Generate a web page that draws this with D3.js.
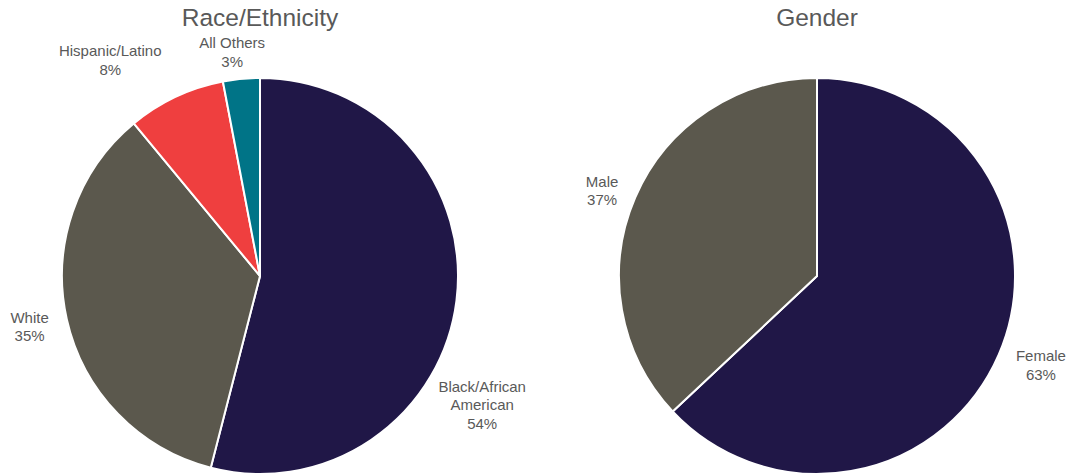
<!DOCTYPE html>
<html>
<head>
<meta charset="utf-8">
<script src="https://cdn.jsdelivr.net/npm/d3@7"></script>
<style>
  body { margin: 0; background: #fff; }
  svg { display: block; font-family: "Liberation Sans", Arial, sans-serif; }
</style>
</head>
<body>
<div class="chart"></div>
<script>
// Race / ethnicity data
const raceLabels = ["Black/African\nAmerican", "White", "Hispanic/Latino", "All Others"];
const raceValues = [54, 35, 8, 3];
const raceColors = ["#201747", "#5b584d", "#ef3f3f", "#007487"];

// Gender data
const genderLabels = ["Female", "Male"];
const genderValues = [63, 37];
const genderColors = ["#201747", "#5b584d"];

const width = 1072;
const height = 474;
const radius = 198;

const svg = d3.select(".chart")
  .append("svg")
  .attr("width", width)
  .attr("height", height);

// small nudges so labels sit where the original has them
const raceNudge = [[-8, 100], [-4, 0], [-51, -6], [-6, 7]];
const genderNudge = [[11, -3], [-2, 7]];

function drawPie(cx, title, labels, values, colors, nudge) {
  const g = svg.append("g").attr("transform", `translate(${cx},276)`);

  const pie = d3.pie().sort(null).value(d => d);
  const arc = d3.arc().innerRadius(0).outerRadius(radius);
  const labelArc = d3.arc().innerRadius(radius + 34).outerRadius(radius + 34);

  const arcs = pie(values);

  g.selectAll("path")
    .data(arcs)
    .enter()
    .append("path")
    .attr("d", arc)
    .attr("fill", (d, i) => colors[i])
    .attr("stroke", "white")
    .attr("stroke-width", 2);

  const lh = 18.5;
  g.selectAll("text.lbl")
    .data(arcs)
    .enter()
    .append("text")
    .attr("class", "lbl")
    .attr("text-anchor", "middle")
    .attr("fill", "#595959")
    .style("font-size", "15px")
    .each(function (d, i) {
      const c = labelArc.centroid(d);
      const x = c[0] + nudge[i][0];
      const y = c[1] + nudge[i][1];
      const lines = labels[i].split("\n").concat([d.data + "%"]);
      const top = y - (lines.length - 1) * lh / 2;
      lines.forEach((t, k) => {
        d3.select(this).append("tspan")
          .attr("x", x)
          .attr("y", top + k * lh)
          .attr("dy", "0.35em")
          .text(t);
      });
    });

  svg.append("text")
    .attr("x", cx)
    .attr("y", 26)
    .attr("text-anchor", "middle")
    .attr("fill", "#595959")
    .style("font-size", "24.5px")
    .text(title);
}

drawPie(260, "Race/Ethnicity", raceLabels, raceValues, raceColors, raceNudge);
drawPie(817, "Gender", genderLabels, genderValues, genderColors, genderNudge);
</script>
</body>
</html>
